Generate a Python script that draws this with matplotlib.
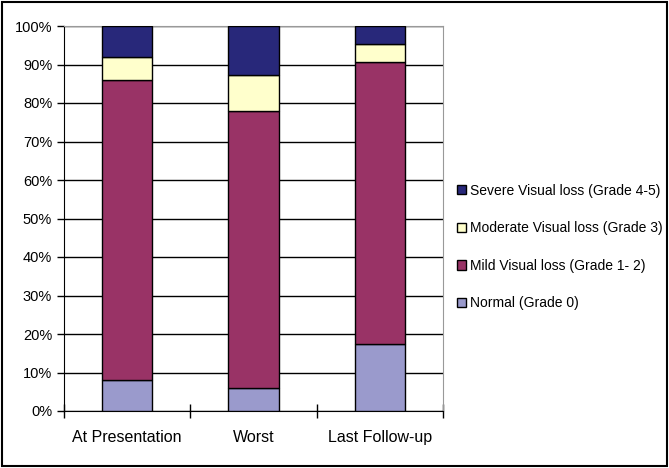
import numpy as np
import matplotlib.pyplot as plt

plt.rcParams['font.family'] = ['Liberation Sans', 'DejaVu Sans']

# Data (percent of patients)
categories = ["At Presentation", "Worst", "Last Follow-up"]
normal = [8.0, 6.0, 17.4]
mild = [78.0, 72.0, 73.2]
moderate = [6.0, 9.2, 4.7]
severe = [8.0, 12.8, 4.7]

series = [
    ("Normal (Grade 0)", normal, "#9a9acc"),
    ("Mild Visual loss (Grade 1- 2)", mild, "#993366"),
    ("Moderate Visual loss (Grade 3)", moderate, "#ffffcc"),
    ("Severe Visual loss (Grade 4-5)", severe, "#28287a"),
]

fig = plt.figure(figsize=(6.69, 4.68), dpi=100)
ax = fig.add_axes([64 / 669, 1 - 411 / 468, (443 - 64) / 669, (411 - 26) / 468])

x = np.arange(len(categories))
bottom = np.zeros(len(categories))
handles = []
for label, vals, color in series:
    b = ax.bar(x, vals, 0.4, bottom=bottom, color=color, edgecolor="black",
               linewidth=1.0, label=label, zorder=3)
    handles.append(b)
    bottom += np.array(vals)

ax.set_xlim(-0.5, 2.5)
ax.set_ylim(0, 100)
ax.set_yticks(np.arange(0, 101, 10))
ax.set_yticklabels([f"{v}%" for v in range(0, 101, 10)], fontsize=10.5)
ax.yaxis.grid(True, color="black", linewidth=1.0, zorder=0)

# category boundary ticks and labels
ax.set_xticks([-0.5, 0.5, 1.5, 2.5])
ax.set_xticklabels([])
ax.set_xticks(x, minor=True)
ax.set_xticklabels(categories, minor=True, fontsize=11.5)
ax.tick_params(axis="x", which="major", direction="inout", length=10, width=1)
ax.tick_params(axis="x", which="minor", length=0, pad=14)
ax.tick_params(axis="y", direction="out", length=5, width=1)

for s in ["top", "right"]:
    ax.spines[s].set_color("#999999")
for s in ["left", "bottom"]:
    ax.spines[s].set_color("black")

leg = fig.legend(handles[::-1], [s[0] for s in series][::-1],
                 loc="center left", bbox_to_anchor=(444 / 669, 1 - 247 / 468),
                 frameon=False, fontsize=10.0, handlelength=0.65, handleheight=0.65,
                 handletextpad=0.3, labelspacing=1.7)

# outer border
fig.patches.append(plt.Rectangle((0.003, 0.004), 0.994, 0.992, transform=fig.transFigure,
                                 fill=False, edgecolor="black", linewidth=1.5))

fig.savefig("out.png", dpi=100)
